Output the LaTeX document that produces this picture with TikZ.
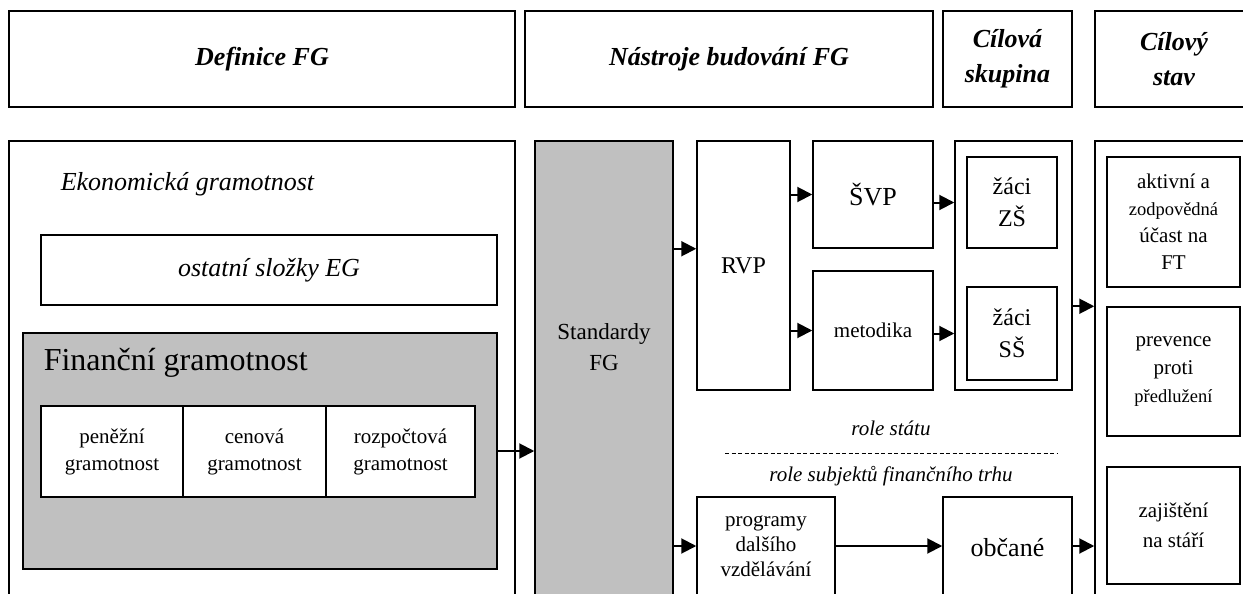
\documentclass[tikz,border=0pt]{standalone}
\usepackage{fontspec}
\setmainfont{Liberation Serif}
\usetikzlibrary{arrows.meta}
\definecolor{fgGray}{RGB}{192,192,192}
\tikzset{every picture/.style={line width=1.5pt}}

\begin{document}
\begin{tikzpicture}[x=1pt,y=1pt,yscale=-1,xscale=1,
    box/.style={draw,inner sep=0pt,align=center},
    head/.style={box,minimum height=96,font=\fontsize{26}{35}\selectfont\bfseries\itshape},
    txt/.style={inner sep=0pt,align=center,font=\fontsize{21}{27}\selectfont},
    arr/.style={line width=2pt,-{Triangle[length=15pt,width=15pt]}}]
        \useasboundingbox (0,0) rectangle (1243,594);
        \clip (0,0) rectangle (1243,594);

        %Headers
        \node [head,minimum width=506] (hdef) at (262,59) {Definice FG};
        \node [head,minimum width=408] (hnas) at (729,59) {Nástroje budování FG};
        \node [head,minimum width=129] (hskup) at (1007.5,59) {Cílová\\skupina};
        \node [head,minimum width=158] (hstav) at (1174,59) {Cílový\\stav};

        %Definice FG
        \node [box,minimum width=506,minimum height=479] (eg) at (262,380.5) {};
        % Text Node
        \node [txt,anchor=west,font=\fontsize{26}{32}\selectfont\itshape] (egtxt) at (60,184) {Ekonomická gramotnost};
        \node [box,minimum width=456,minimum height=70,font=\fontsize{26}{32}\selectfont\itshape] (ost) at (269,270) {ostatní složky EG};
        \node [box,fill=fgGray,minimum width=474,minimum height=236] (fg) at (260,451) {};
        % Text Node
        \node [txt,anchor=west,font=\fontsize{32}{38}\selectfont] (fgtxt) at (43,363) {Finanční gramotnost};
        \node [box,txt,draw,fill=white,minimum width=142,minimum height=91] (pen) at (112,451.5) {peněžní\\gramotnost};
        \node [box,txt,draw,fill=white,minimum width=143,minimum height=91] (cen) at (254.5,451.5) {cenová\\gramotnost};
        \node [box,txt,draw,fill=white,minimum width=149,minimum height=91] (roz) at (400.5,451.5) {rozpočtová\\gramotnost};

        %Nastroje budovani FG
        \node [box,fill=fgGray,minimum width=138,minimum height=479] (std) at (604,380.5) {};
        % Text Node
        \node [txt,font=\fontsize{23}{31}\selectfont] (stdtxt) at (604,347) {Standardy\\FG};
        \node [box,minimum width=93,minimum height=249,font=\fontsize{24}{30}\selectfont] (rvp) at (743.5,265.5) {RVP};
        \node [box,minimum width=120,minimum height=107,font=\fontsize{26}{32}\selectfont] (svp) at (873,194.5) {ŠVP};
        \node [box,minimum width=120,minimum height=119,font=\fontsize{21}{27}\selectfont] (met) at (873,330.5) {metodika};
        % Text Node
        \node [txt,font=\fontsize{21}{27}\selectfont\itshape] (rolea) at (891,428) {role státu};
        \draw [line width=0.8pt,dash pattern=on 4pt off 2.5pt] (725,453) -- (1058,453);
        % Text Node
        \node [txt,font=\fontsize{21}{27}\selectfont\itshape] (roleb) at (891,476) {role subjektů finančního trhu};
        \node [box,minimum width=138,minimum height=123] (prog) at (766,558.5) {};
        % Text Node
        \node [txt,font=\fontsize{21}{25}\selectfont] (progtxt) at (766,546) {programy\\dalšího\\vzdělávání};

        %Cilova skupina
        \node [box,minimum width=117,minimum height=249] (skup) at (1013.5,265.5) {};
        \node [box,minimum width=90,minimum height=91,font=\fontsize{24}{32}\selectfont] (zs) at (1012,202.5) {žáci\\ZŠ};
        \node [box,minimum width=90,minimum height=93,font=\fontsize{24}{32}\selectfont] (ss) at (1012,333.5) {žáci\\SŠ};
        \node [box,minimum width=129,minimum height=123] (obc) at (1007.5,558.5) {};
        % Text Node
        \node [txt,font=\fontsize{26}{32}\selectfont] (obctxt) at (1007.5,548) {občané};

        %Cilovy stav
        \node [box,minimum width=158,minimum height=479] (stav) at (1174,380.5) {};
        \node [box,txt,draw,minimum width=133,minimum height=130] (akt) at (1173.5,222) {aktivní a\\{\fontsize{18.5}{27}\selectfont zodpovědná}\\účast na\\FT};
        \node [box,txt,draw,minimum width=133,minimum height=129,font=\fontsize{21}{28}\selectfont] (prev) at (1173.5,371.5) {prevence\\proti\\{\fontsize{18.5}{28}\selectfont předlužení}};
        \node [box,txt,draw,minimum width=133,minimum height=117,font=\fontsize{21}{30}\selectfont] (zaj) at (1173.5,525.5) {zajištění\\na stáří};

        %Arrows
        \draw [arr] (fg.east) -- (fg.east -| std.west);
        \draw [arr] (std.east |- svp.south) -- (svp.south -| rvp.west);
        \draw [arr] (rvp.east |- svp) -- (svp);
        \draw [arr] (rvp.east |- met) -- (met);
        \draw [arr] (svp.east |- zs) -- (zs -| skup.west);
        \draw [arr] (met.east |- ss) -- (ss -| skup.west);
        \draw [arr] (skup.east |- prev.north) -- (prev.north -| stav.west);
        \draw [arr] (std.east |- progtxt) -- (progtxt -| prog.west);
        \draw [arr] (prog.east |- progtxt) -- (progtxt -| obc.west);
        \draw [arr] (obc.east |- progtxt) -- (progtxt -| stav.west);

\end{tikzpicture}
\end{document}
